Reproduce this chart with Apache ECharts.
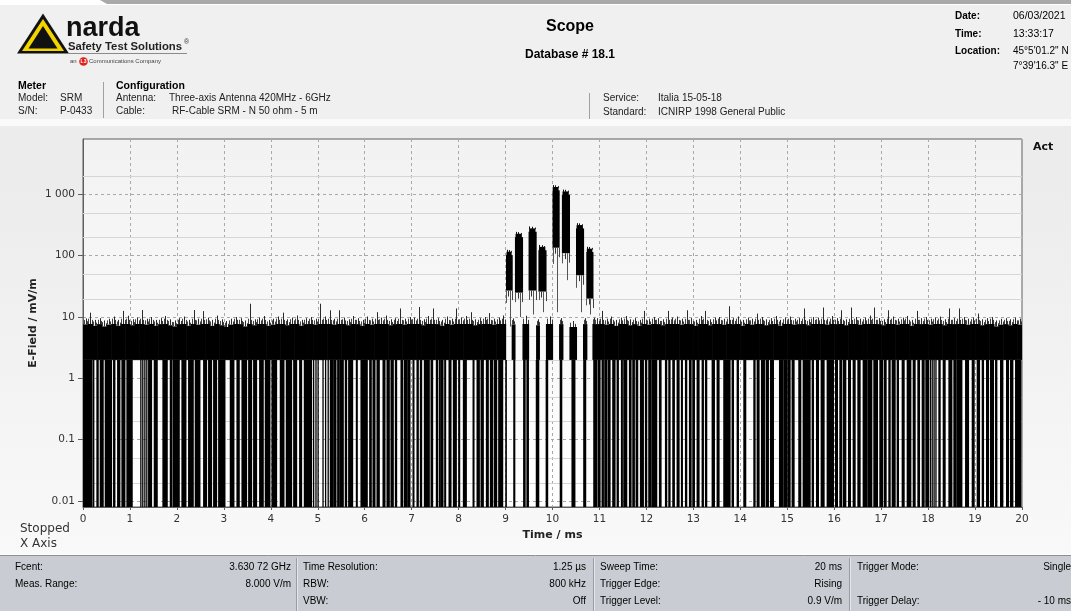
<!DOCTYPE html>
<html><head><meta charset="utf-8">
<script src="https://cdn.jsdelivr.net/npm/echarts@6/dist/echarts.min.js"></script>
<style>html,body{margin:0;padding:0;background:#f0f0f0;overflow:hidden}#c{width:1071px;height:611px}</style>
</head><body><div id="c"></div>
<script>
// ---------------- data ----------------
const xMin = 0, xMax = 20;                 // Time / ms
const yMin = 0.008, yMax = 8000;           // E-Field / mV/m (log)
const tickExponents = [-2, -1, 0, 1, 2, 3];
const tickLabels = ['0.01', '0.1', '1', '10', '100', '1 000'];
const minorGridValues = [0.02, 0.05, 0.2, 0.5, 2, 5, 20, 50, 200, 500, 2000];

const binWidth = 0.1;          // ms per noise bin
const leftStart = 0;           // first noise bin (ms)
const rightStart = 10.9;       // noise resumes after burst (ms)
const bandBottom = 2.0;        // lower edge of the dense noise band (mV/m)

// peak of noise per 0.1 ms bin, 0 .. 9 ms
const noiseTopLeft = [
  9.5,11.8,9.0,9.6,8.8,9.4,10.2,9.0,12.6,10.5,
  9.2,9.8,13.0,9.4,10.0,9.0,9.6,10.4,9.2,8.8,
  9.6,10.2,9.0,13.0,9.4,12.5,9.8,9.0,10.6,9.2,
  8.6,9.4,10.0,9.6,8.8,16.5,9.2,9.8,10.4,9.0,
  9.4,10.2,11.8,9.2,9.8,10.6,9.0,9.6,10.0,9.4,
  16.5,10.2,12.9,9.4,12.9,9.8,9.2,10.4,9.6,9.0,
  10.2,9.4,12.0,9.8,10.6,9.2,9.6,13.8,9.4,10.0,
  9.8,14.6,9.2,10.4,13.8,9.6,9.0,10.2,9.4,13.8,
  9.8,10.4,12.0,9.2,9.6,10.0,11.6,9.4,9.8,10.6];
// peak of noise per 0.1 ms bin, 10.9 .. 20 ms
const noiseTopRight = [
  9.6,12.6,9.4,10.2,9.0,9.8,10.4,9.2,9.6,9.0,
  12.6,9.4,10.0,9.6,9.2,12.6,9.8,10.2,9.4,12.9,
  9.6,9.0,10.4,12.6,9.2,9.8,10.0,9.4,15.0,9.6,
  10.2,9.0,9.8,9.4,11.4,10.0,9.2,9.6,10.4,9.0,
  9.8,10.2,9.4,9.6,13.8,9.2,10.0,9.8,14.3,9.4,
  10.4,9.6,12.9,9.2,14.3,10.0,9.4,9.8,10.6,14.3,
  9.6,9.2,12.9,10.2,9.4,9.8,10.4,9.0,12.6,9.6,
  10.0,9.4,9.8,10.2,9.2,13.8,9.6,13.8,10.0,9.4,
  9.8,11.4,9.2,9.6,10.0,8.8,9.4,9.6,9.2,9.8,
  9.4];

// noise segments between the burst pulses
const burstNoiseStart = [9.13, 9.36, 9.65, 9.86, 10.14, 10.36, 10.65, 10.85];
const burstNoiseEnd   = [9.20, 9.49, 9.72, 10.00, 10.22, 10.51, 10.73, 10.90];
const burstNoiseTop   = [9.5, 10.5, 9.2, 10.2, 9.6, 8.6, 9.6, 9.8];

// burst pulses
const pulseStart = [9.01, 9.20, 9.49, 9.70, 10.00, 10.20, 10.50, 10.72];
const pulseEnd   = [9.14, 9.36, 9.65, 9.86, 10.14, 10.36, 10.66, 10.86];
const pulseTop   = [125, 245, 300, 150, 1420, 1200, 340, 140];
const pulseLow   = [27, 25, 27, 26, 135, 110, 48, 20];
const pulseMin   = [7, 10, 11, 12, 12, 40, 12, 11];

// intervals (ms) where the signal drops to the floor
const dropStart = [
 0.007,0.206,0.291,0.362,0.469,0.646,0.732,0.824,0.930,1.225,1.266,1.31,1.352,1.392,1.513,1.697,1.854,1.911,2.102,2.244,
 2.386,2.564,2.670,2.777,2.884,3.132,3.274,3.381,3.523,3.629,3.757,3.878,4.020,4.197,4.325,4.482,4.609,4.709,4.905,4.955,
 5.0,5.105,5.16,5.215,5.263,5.348,5.419,5.476,5.582,5.653,5.817,5.916,6.101,6.172,6.257,6.385,6.470,6.555,6.648,6.768,
 6.839,6.911,7.024,7.109,7.180,7.266,7.408,7.521,7.585,7.628,7.699,7.791,7.884,7.997,8.097,8.303,8.388,8.473,8.587,8.672,
 8.757,8.849,9.00,9.17,9.38,9.45,9.65,9.86,10.16,10.41,10.66,
 10.874,10.966,11.051,11.108,11.179,11.278,11.371,11.463,11.513,11.634,11.705,11.776,11.868,11.974,12.045,12.116,12.273,12.401,12.472,12.557,
 12.649,12.741,12.827,12.912,12.983,13.075,13.182,13.253,13.395,13.501,13.643,13.821,13.928,14.070,14.283,14.354,14.446,14.545,14.638,14.83,
 14.922,15.007,15.099,15.241,15.334,15.526,15.618,15.717,15.845,16.023,16.115,16.193,16.300,16.399,16.499,16.612,16.712,16.839,16.967,17.067,
 17.159,17.230,17.337,17.443,17.550,17.678,17.777,17.869,17.947,18.04,18.08,18.12,18.16,18.224,18.317,18.438,18.544,18.615,18.793,18.935,
 19.041,19.148,19.240,19.325,19.432,19.538,19.666,19.751,19.858];
const dropEnd = [
 0.185,0.234,0.327,0.433,0.611,0.682,0.788,0.895,1.051,1.235,1.276,1.32,1.362,1.463,1.584,1.797,1.889,2.053,2.195,2.351,
 2.493,2.635,2.741,2.848,3.026,3.217,3.331,3.487,3.594,3.700,3.842,3.984,4.126,4.283,4.446,4.553,4.659,4.872,4.915,4.965,
 5.01,5.115,5.17,5.225,5.334,5.391,5.462,5.547,5.618,5.746,5.845,6.058,6.143,6.222,6.314,6.435,6.527,6.612,6.683,6.811,
 6.896,6.967,7.052,7.145,7.216,7.379,7.450,7.557,7.614,7.670,7.727,7.841,7.955,8.026,8.168,8.331,8.445,8.530,8.636,8.729,
 8.814,8.942,9.02,9.20,9.42,9.49,9.71,9.90,10.20,10.48,10.71,
 10.945,11.016,11.087,11.158,11.229,11.335,11.406,11.491,11.584,11.676,11.747,11.818,11.939,12.010,12.102,12.223,12.315,12.436,12.507,12.599,
 12.699,12.770,12.862,12.955,13.026,13.125,13.217,13.288,13.452,13.551,13.785,13.857,13.963,14.119,14.318,14.403,14.517,14.602,14.709,14.908,
 14.993,15.064,15.149,15.291,15.490,15.561,15.668,15.788,15.987,16.072,16.165,16.250,16.349,16.449,16.555,16.697,16.804,16.925,17.038,17.109,
 17.195,17.301,17.372,17.493,17.635,17.727,17.820,17.919,18.011,18.05,18.09,18.13,18.17,18.260,18.366,18.509,18.601,18.722,18.864,18.984,
 19.098,19.183,19.290,19.396,19.467,19.595,19.716,19.808,19.979];

// ---------------- build series data ----------------
const bandData = []
  .concat(noiseTopLeft.map((v, i) => [leftStart + i * binWidth, leftStart + (i + 1) * binWidth, v]))
  .concat(noiseTopRight.map((v, j) => [rightStart + j * binWidth, rightStart + (j + 1) * binWidth, v]))
  .concat(burstNoiseTop.map((v, k) => [burstNoiseStart[k], burstNoiseEnd[k], v]));
const pulseData = pulseTop.map((v, i) => [pulseStart[i], pulseEnd[i], v, pulseLow[i], pulseMin[i]]);
const dropData = dropStart.map((s, i) => [s, dropEnd[i]]);
const minorData = minorGridValues.map(v => [xMin, v]);

function vline(api, t, v0, v1, color) {
  const a = api.coord([t, v0]), b = api.coord([t, v1]);
  const x = Math.round(a[0]) + 0.5;
  return { type: 'line', shape: { x1: x, y1: a[1], x2: x, y2: b[1] }, style: { stroke: color, lineWidth: 1 } };
}
function bandItem(params, api) {
  const t0 = api.value(0), t1 = api.value(1), top = api.value(2);
  const solid = Math.min(top * 0.8, 7.7);
  const a = api.coord([t0, bandBottom]);
  const b = api.coord([t1, solid]);
  const dt = t1 - t0;
  return { type: 'group', children: [
    { type: 'rect', shape: { x: a[0], y: b[1], width: b[0] - a[0] + 0.6, height: a[1] - b[1] }, style: { fill: '#000' } },
    vline(api, t0 + dt * 0.55, solid, top, '#2a2a2a'),
    vline(api, t0 + dt * 0.15, solid, Math.min(top * 0.94, 9.4), '#444'),
    vline(api, t0 + dt * 0.85, solid, Math.min(top * 0.9, 9.0), '#3a3a3a')
  ]};
}
function pulseItem(params, api) {
  const t0 = api.value(0), t1 = api.value(1), top = api.value(2), low = api.value(3), mn = api.value(4);
  const dt = t1 - t0;
  const a = api.coord([t0, low]);
  const b = api.coord([t1, top * 0.82]);
  const w = b[0] - a[0];
  const p1 = api.coord([t0, top * 0.93]);
  return { type: 'group', children: [
    { type: 'rect', shape: { x: a[0], y: b[1], width: w + 0.6, height: a[1] - b[1] }, style: { fill: '#000' } },
    { type: 'rect', shape: { x: a[0] + w * 0.08, y: p1[1], width: w * 0.84, height: b[1] - p1[1] + 1 }, style: { fill: '#000' } },
    vline(api, t0 + dt * 0.1, top * 0.9, top, '#111'),
    vline(api, t0 + dt * 0.45, top * 0.9, top * 0.99, '#111'),
    vline(api, t0 + dt * 0.8, top * 0.9, top * 0.96, '#222'),
    vline(api, t0 + dt * 0.02, low, (low + mn) / 2, '#555'),
    vline(api, t0 + dt * 0.35, low, low * 0.8, '#333'),
    vline(api, t0 + dt * 0.62, low, mn, '#555'),
    vline(api, t0 + dt * 0.95, low, low * 0.7, '#444')
  ]};
}
function dropItem(params, api) {
  const a = api.coord([api.value(0), bandBottom]);
  const b = api.coord([api.value(1), yMin]);
  return { type: 'rect', shape: { x: a[0] - 0.3, y: a[1], width: Math.max(b[0] - a[0], 0.6) + 0.7, height: b[1] - a[1] }, style: { fill: '#000' } };
}
function minorItem(params, api) {
  const a = api.coord([xMin, api.value(1)]);
  const b = api.coord([xMax, api.value(1)]);
  return { type: 'line', shape: { x1: a[0], y1: Math.round(a[1]) + 0.5, x2: b[0], y2: Math.round(b[1]) + 0.5 }, style: { stroke: '#d6d6d6', lineWidth: 1 } };
}

// ---------------- page furniture ----------------
function txt(x, y, text, size, o) {
  o = o || {};
  return { type: 'text', x: x, y: y, silent: true, rotation: o.rot || 0,
    style: { text: text, fontSize: size, fontFamily: o.ff || 'Liberation Sans', fontWeight: o.bold ? 'bold' : 'normal',
      fill: o.color || '#000', align: o.align || 'left', verticalAlign: 'middle' } };
}
function ln(x1, y1, x2, y2, c, w) {
  return { type: 'line', silent: true, shape: { x1, y1, x2, y2 }, style: { stroke: c, lineWidth: w || 1 } };
}
const furniture = [
  // header background
  { type: 'rect', silent: true, shape: { x: 0, y: 0, width: 1071, height: 120 }, style: { fill: '#f0f0f0' } },
  { type: 'rect', silent: true, shape: { x: 0, y: 0, width: 1071, height: 5 }, style: { fill: '#ffffff' } },
  { type: 'polygon', silent: true, shape: { points: [[100, 0], [1071, 0], [1071, 4], [107, 4]] }, style: { fill: '#a9a9a9' } },
  { type: 'rect', silent: true, shape: { x: 0, y: 119, width: 1071, height: 7 }, style: { fill: '#fafafa' } },
  // logo
  { type: 'polygon', silent: true, shape: { points: [[17, 53.5], [43, 13.5], [69, 53.5]] }, style: { fill: '#111' } },
  { type: 'polygon', silent: true, shape: { points: [[22, 51], [43, 19], [64, 51]] }, style: { fill: '#f3d400' } },
  { type: 'polygon', silent: true, shape: { points: [[28.5, 48.5], [43, 26], [57.5, 48.5]] }, style: { fill: '#111' } },
  txt(66, 28.5, 'narda', 27, { bold: true, color: '#111' }),
  txt(68, 46.5, 'Safety Test Solutions', 11.3, { bold: true, color: '#222' }),
  txt(184, 42, '®', 7, { color: '#333' }),
  ln(68, 53.5, 187, 53.5, '#8a8a8a', 1),
  txt(70, 61.5, 'an', 6, { color: '#444' }),
  { type: 'circle', silent: true, shape: { cx: 83.5, cy: 61.5, r: 4.3 }, style: { fill: '#e0201b' } },
  txt(83.5, 61.5, 'L3', 5, { bold: true, color: '#fff', align: 'center' }),
  txt(89, 61.5, 'Communications Company', 6, { color: '#444' }),
  // title block
  txt(570, 27, 'Scope', 16, { bold: true, align: 'center' }),
  txt(570, 55, 'Database # 18.1', 12, { bold: true, align: 'center' }),
  // date block
  txt(955, 16, 'Date:', 10, { bold: true }), txt(1013, 16, '06/03/2021', 10.5),
  txt(955, 34, 'Time:', 10, { bold: true }), txt(1013, 34, '13:33:17', 10.5),
  txt(955, 51, 'Location:', 10, { bold: true }), txt(1013, 51, '45°5\'01.2" N', 10),
  txt(1013, 66, '7°39\'16.3" E', 10),
  // meter / configuration
  txt(18, 86, 'Meter', 10.5, { bold: true }),
  txt(18, 98.5, 'Model:', 10, { color: '#222' }), txt(60, 98.5, 'SRM', 10, { color: '#222' }),
  txt(18, 111.5, 'S/N:', 10, { color: '#222' }), txt(60, 111.5, 'P-0433', 10, { color: '#222' }),
  ln(103.5, 82, 103.5, 118, '#a0a0a0', 1),
  txt(116, 86, 'Configuration', 10.5, { bold: true }),
  txt(116, 98.5, 'Antenna:', 10, { color: '#222' }), txt(169, 98.5, 'Three-axis Antenna 420MHz - 6GHz', 10, { color: '#222' }),
  txt(116, 111.5, 'Cable:', 10, { color: '#222' }), txt(172, 111.5, 'RF-Cable SRM - N 50 ohm - 5 m', 10, { color: '#222' }),
  ln(589.5, 93, 589.5, 119, '#a0a0a0', 1),
  txt(603, 98.5, 'Service:', 10, { color: '#222' }), txt(658, 98.5, 'Italia 15-05-18', 10, { color: '#222' }),
  txt(603, 112, 'Standard:', 10, { color: '#222' }), txt(658, 112, 'ICNIRP 1998 General Public', 10, { color: '#222' }),
  // chart panel labels
  txt(1033, 147, 'Act', 11, { bold: true, ff: 'DejaVu Sans', color: '#111' }),
  txt(20, 529, 'Stopped', 12, { ff: 'DejaVu Sans', color: '#333' }),
  txt(20, 544, 'X Axis', 12, { ff: 'DejaVu Sans', color: '#333' }),
  txt(33, 323, 'E-Field / mV/m', 11, { bold: true, ff: 'DejaVu Sans', color: '#222', align: 'center', rot: Math.PI / 2 }),
  // footer
  { type: 'rect', silent: true, shape: { x: 0, y: 556, width: 1071, height: 55 }, style: { fill: '#c9cdd3' } },
  ln(0, 555.5, 1071, 555.5, '#8c9096', 1),
  ln(0, 554.5, 1071, 554.5, '#ffffff', 1),
  ln(296.5, 558, 296.5, 611, '#9a9ea4', 1), ln(297.5, 558, 297.5, 611, '#e4e6ea', 1),
  ln(593.5, 558, 593.5, 611, '#9a9ea4', 1), ln(594.5, 558, 594.5, 611, '#e4e6ea', 1),
  ln(849.5, 558, 849.5, 611, '#9a9ea4', 1), ln(850.5, 558, 850.5, 611, '#e4e6ea', 1),
  txt(15, 567, 'Fcent:', 10), txt(291, 567, '3.630 72 GHz', 10, { align: 'right' }),
  txt(15, 584, 'Meas. Range:', 10), txt(291, 584, '8.000 V/m', 10, { align: 'right' }),
  txt(303, 567, 'Time Resolution:', 10), txt(586, 567, '1.25 µs', 10, { align: 'right' }),
  txt(303, 584, 'RBW:', 10), txt(586, 584, '800 kHz', 10, { align: 'right' }),
  txt(303, 601, 'VBW:', 10), txt(586, 601, 'Off', 10, { align: 'right' }),
  txt(600, 567, 'Sweep Time:', 10), txt(842, 567, '20 ms', 10, { align: 'right' }),
  txt(600, 584, 'Trigger Edge:', 10), txt(842, 584, 'Rising', 10, { align: 'right' }),
  txt(600, 601, 'Trigger Level:', 10), txt(842, 601, '0.9 V/m', 10, { align: 'right' }),
  txt(857, 567, 'Trigger Mode:', 10), txt(1071, 567, 'Single', 10, { align: 'right' }),
  txt(857, 601, 'Trigger Delay:', 10), txt(1071, 601, '- 10 ms', 10, { align: 'right' })
];

const chart = echarts.init(document.getElementById('c'), null, { renderer: 'canvas', width: 1071, height: 611 });
const option = {
  animation: false,
  backgroundColor: new echarts.graphic.LinearGradient(0, 0, 0, 1, [
    { offset: 0, color: '#ececec' }, { offset: 0.3, color: '#ececec' }, { offset: 1, color: '#fbfbfb' }]),
  graphic: { elements: furniture },
  grid: { left: 83, top: 139, width: 939, height: 368, show: true, borderColor: '#5e5e5e', borderWidth: 1,
    backgroundColor: new echarts.graphic.LinearGradient(0, 0, 0, 1, [
      { offset: 0, color: '#f2f2f2' }, { offset: 1, color: '#ffffff' }]) },
  xAxis: {
    type: 'value', min: xMin, max: xMax, interval: 1,
    axisLine: { show: true, onZero: false, lineStyle: { color: '#5e5e5e' } },
    axisTick: { show: true, length: 3, lineStyle: { color: '#5e5e5e' } },
    axisLabel: { fontFamily: 'DejaVu Sans', fontSize: 10.5, color: '#333', margin: 7 },
    splitLine: { show: true, lineStyle: { color: '#a9a9a9', type: [3, 3] } },
    name: 'Time / ms', nameLocation: 'middle', nameGap: 20,
    nameTextStyle: { fontFamily: 'DejaVu Sans', fontWeight: 'bold', fontSize: 11, color: '#222', verticalAlign: 'top' }
  },
  yAxis: {
    type: 'log', logBase: 10, min: yMin, max: yMax,
    axisLine: { show: true, lineStyle: { color: '#5e5e5e' } },
    axisTick: { show: true, length: 5, lineStyle: { color: '#5e5e5e' } },
    axisLabel: { fontFamily: 'DejaVu Sans', fontSize: 10.5, color: '#333', margin: 8, showMinLabel: false, showMaxLabel: false,
      formatter: function (v) {
        const e = Math.log10(v), k = Math.round(e);
        const idx = tickExponents.indexOf(k);
        return (Math.abs(e - k) < 0.01 && idx >= 0) ? tickLabels[idx] : '';
      } },
    splitLine: { show: true, lineStyle: { color: '#a9a9a9', type: [3, 3] } }
  },
  series: [
    { type: 'custom', name: 'minor grid', z: 1, silent: true, clip: true, renderItem: minorItem, data: minorData, encode: { x: 0, y: 1 } },
    { type: 'custom', name: 'floor drops', z: 3, silent: true, clip: true, renderItem: dropItem, data: dropData, encode: { x: [0, 1] } },
    { type: 'custom', name: 'noise band', z: 3, silent: true, clip: true, renderItem: bandItem, data: bandData, encode: { x: [0, 1], y: 2 } },
    { type: 'custom', name: 'burst', z: 3, silent: true, clip: true, renderItem: pulseItem, data: pulseData, encode: { x: [0, 1], y: [2, 3, 4] } }
  ]
};
chart.setOption(option);
</script>
</body></html>
